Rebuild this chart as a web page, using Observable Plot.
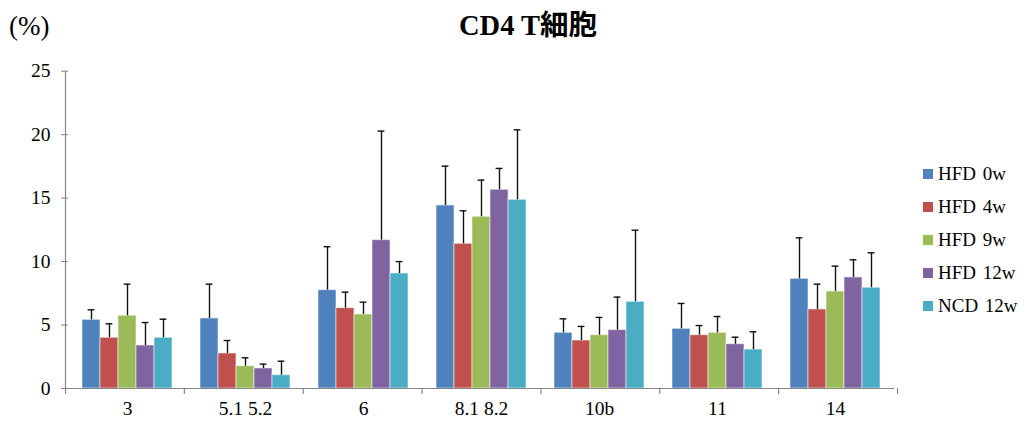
<!DOCTYPE html>
<html>
<head>
<meta charset="utf-8">
<script src="https://cdn.jsdelivr.net/npm/d3@7"></script>
<script src="https://cdn.jsdelivr.net/npm/@observablehq/plot@0.6"></script>
<style>
  html, body { margin: 0; padding: 0; background: #fff; }
  #wrap { position: relative; width: 1029px; height: 426px; overflow: hidden; font-family: "Liberation Serif", "Times New Roman", "Noto Sans CJK JP", serif; }
  #title { position: absolute; left: 378px; width: 300px; top: 10px; line-height: 32px; text-align: center; font-size: 28.5px; font-weight: bold; color: #000; }
  #unit { position: absolute; left: 9px; top: 10px; line-height: 32px; font-size: 27px; color: #000; }
  #chart { position: absolute; left: 0; top: 52px; }
  #legend { position: absolute; left: 923px; top: 158px; }
  .row { display: flex; align-items: center; height: 32.9px; }
  .sw { width: 10px; height: 10px; margin-right: 5px; }
  .lab { font-size: 19px; color: #000; word-spacing: 2px; white-space: nowrap; }
</style>
</head>
<body>
<div id="wrap">
  <div id="unit">(%)</div>
  <div id="title">CD4 T細胞</div>
  <div id="chart"></div>
  <div id="legend"></div>
</div>
<script>
// ---- data ----
const groups = ["3", "5.1 5.2", "6", "8.1 8.2", "10b", "11", "14"];
const series = ["HFD 0w", "HFD 4w", "HFD 9w", "HFD 12w", "NCD 12w"];
const colors = ["#4F81BD", "#C0504D", "#9BBB59", "#8064A2", "#4BACC6"];
const yTicks = [0, 5, 10, 15, 20, 25];

const meanHFD0  = [5.41, 5.52, 7.75, 14.42, 4.39, 4.70, 8.64];
const meanHFD4  = [4.00, 2.76, 6.33, 11.40, 3.78, 4.20, 6.23];
const meanHFD9  = [5.73, 1.76, 5.83, 13.53, 4.20, 4.39, 7.64];
const meanHFD12 = [3.39, 1.58, 11.69, 15.66, 4.60, 3.49, 8.75];
const meanNCD12 = [4.00, 1.05, 9.06, 14.87, 6.83, 3.07, 7.94];

const sdHFD0  = [0.79, 2.70, 3.42, 3.10, 1.10, 2.00, 3.23];
const sdHFD4  = [1.10, 1.02, 1.26, 2.60, 1.11, 0.76, 1.99];
const sdHFD9  = [2.49, 0.66, 0.97, 2.89, 1.40, 1.28, 2.00];
const sdHFD12 = [1.81, 0.34, 8.59, 1.68, 2.60, 0.55, 1.39];
const sdNCD12 = [1.46, 1.10, 0.94, 5.51, 5.64, 1.40, 2.75];

const means = [meanHFD0, meanHFD4, meanHFD9, meanHFD12, meanNCD12];
const sds = [sdHFD0, sdHFD4, sdHFD9, sdHFD12, sdNCD12];

const rows = [];
groups.forEach((g, gi) => series.forEach((s, si) => {
  rows.push({group: g, series: s, mean: means[si][gi], top: means[si][gi] + sds[si][gi]});
}));

const axisColor = "#868686";

const svg = Plot.plot({
  width: 1029,
  height: 374,
  marginLeft: 65,
  marginRight: 132,
  marginTop: 18.7,
  marginBottom: 38,
  style: {fontFamily: "'Liberation Serif', 'Times New Roman', serif", fontSize: "19.5px", color: "#000", background: "transparent"},
  fx: {domain: groups, padding: 0, label: null},
  x: {domain: series, paddingInner: 0, paddingOuter: 0.77, axis: null},
  y: {domain: [0, 25], label: null},
  color: {domain: series, range: colors},
  marks: [
    Plot.barY(rows, {fx: "group", x: "series", y: "mean", fill: "series", stroke: "#ffffff", strokeOpacity: 0.55, strokeWidth: 1}),
    Plot.ruleX(rows, {fx: "group", x: "series", y1: "mean", y2: "top", stroke: "#111", strokeWidth: 1.4}),
    Plot.tickY(rows, {fx: "group", x: "series", y: "top", stroke: "#111", strokeWidth: 1.4, insetLeft: 5.6, insetRight: 5.6}),
    Plot.ruleY([0], {stroke: axisColor, strokeWidth: 1.2}),
    Plot.axisY({anchor: "left", ticks: yTicks, tickSize: 7, tickPadding: 11, stroke: axisColor, fill: "#000", label: null, tickFormat: d => String(d)}),
    Plot.axisFx({anchor: "bottom", tickSize: 0, tickPadding: 13, fill: "#000", label: null})
  ]
});

document.getElementById("chart").appendChild(svg);

// axis line and group-boundary ticks placed from the plot's own scales
try {
  const fxS = svg.scale("fx");
  const yS = svg.scale("y");
  const band = d3.scaleBand()
    .domain(fxS.domain)
    .range(fxS.range)
    .paddingInner(fxS.paddingInner ?? fxS.padding ?? 0)
    .paddingOuter(fxS.paddingOuter ?? fxS.padding ?? 0)
    .align(fxS.align ?? 0.5);
  const y0 = yS.apply(0), yTop = yS.apply(25);
  const edges = band.domain().map(g => band(g));
  edges.push(band(band.domain()[band.domain().length - 1]) + band.step());
  const g = d3.select(svg).append("g").attr("stroke", axisColor).attr("stroke-width", 1.2).attr("transform", "translate(0.5,0)");
  g.append("line").attr("x1", edges[0]).attr("x2", edges[0]).attr("y1", yTop).attr("y2", y0);
  edges.forEach(x => g.append("line").attr("x1", x).attr("x2", x).attr("y1", y0).attr("y2", y0 + 6));
} catch (e) { console.error(e); }

// legend
const leg = d3.select("#legend");
series.forEach((s, i) => {
  const r = leg.append("div").attr("class", "row");
  r.append("div").attr("class", "sw").style("background", colors[i]);
  r.append("div").attr("class", "lab").text(s);
});
</script>
</body>
</html>
